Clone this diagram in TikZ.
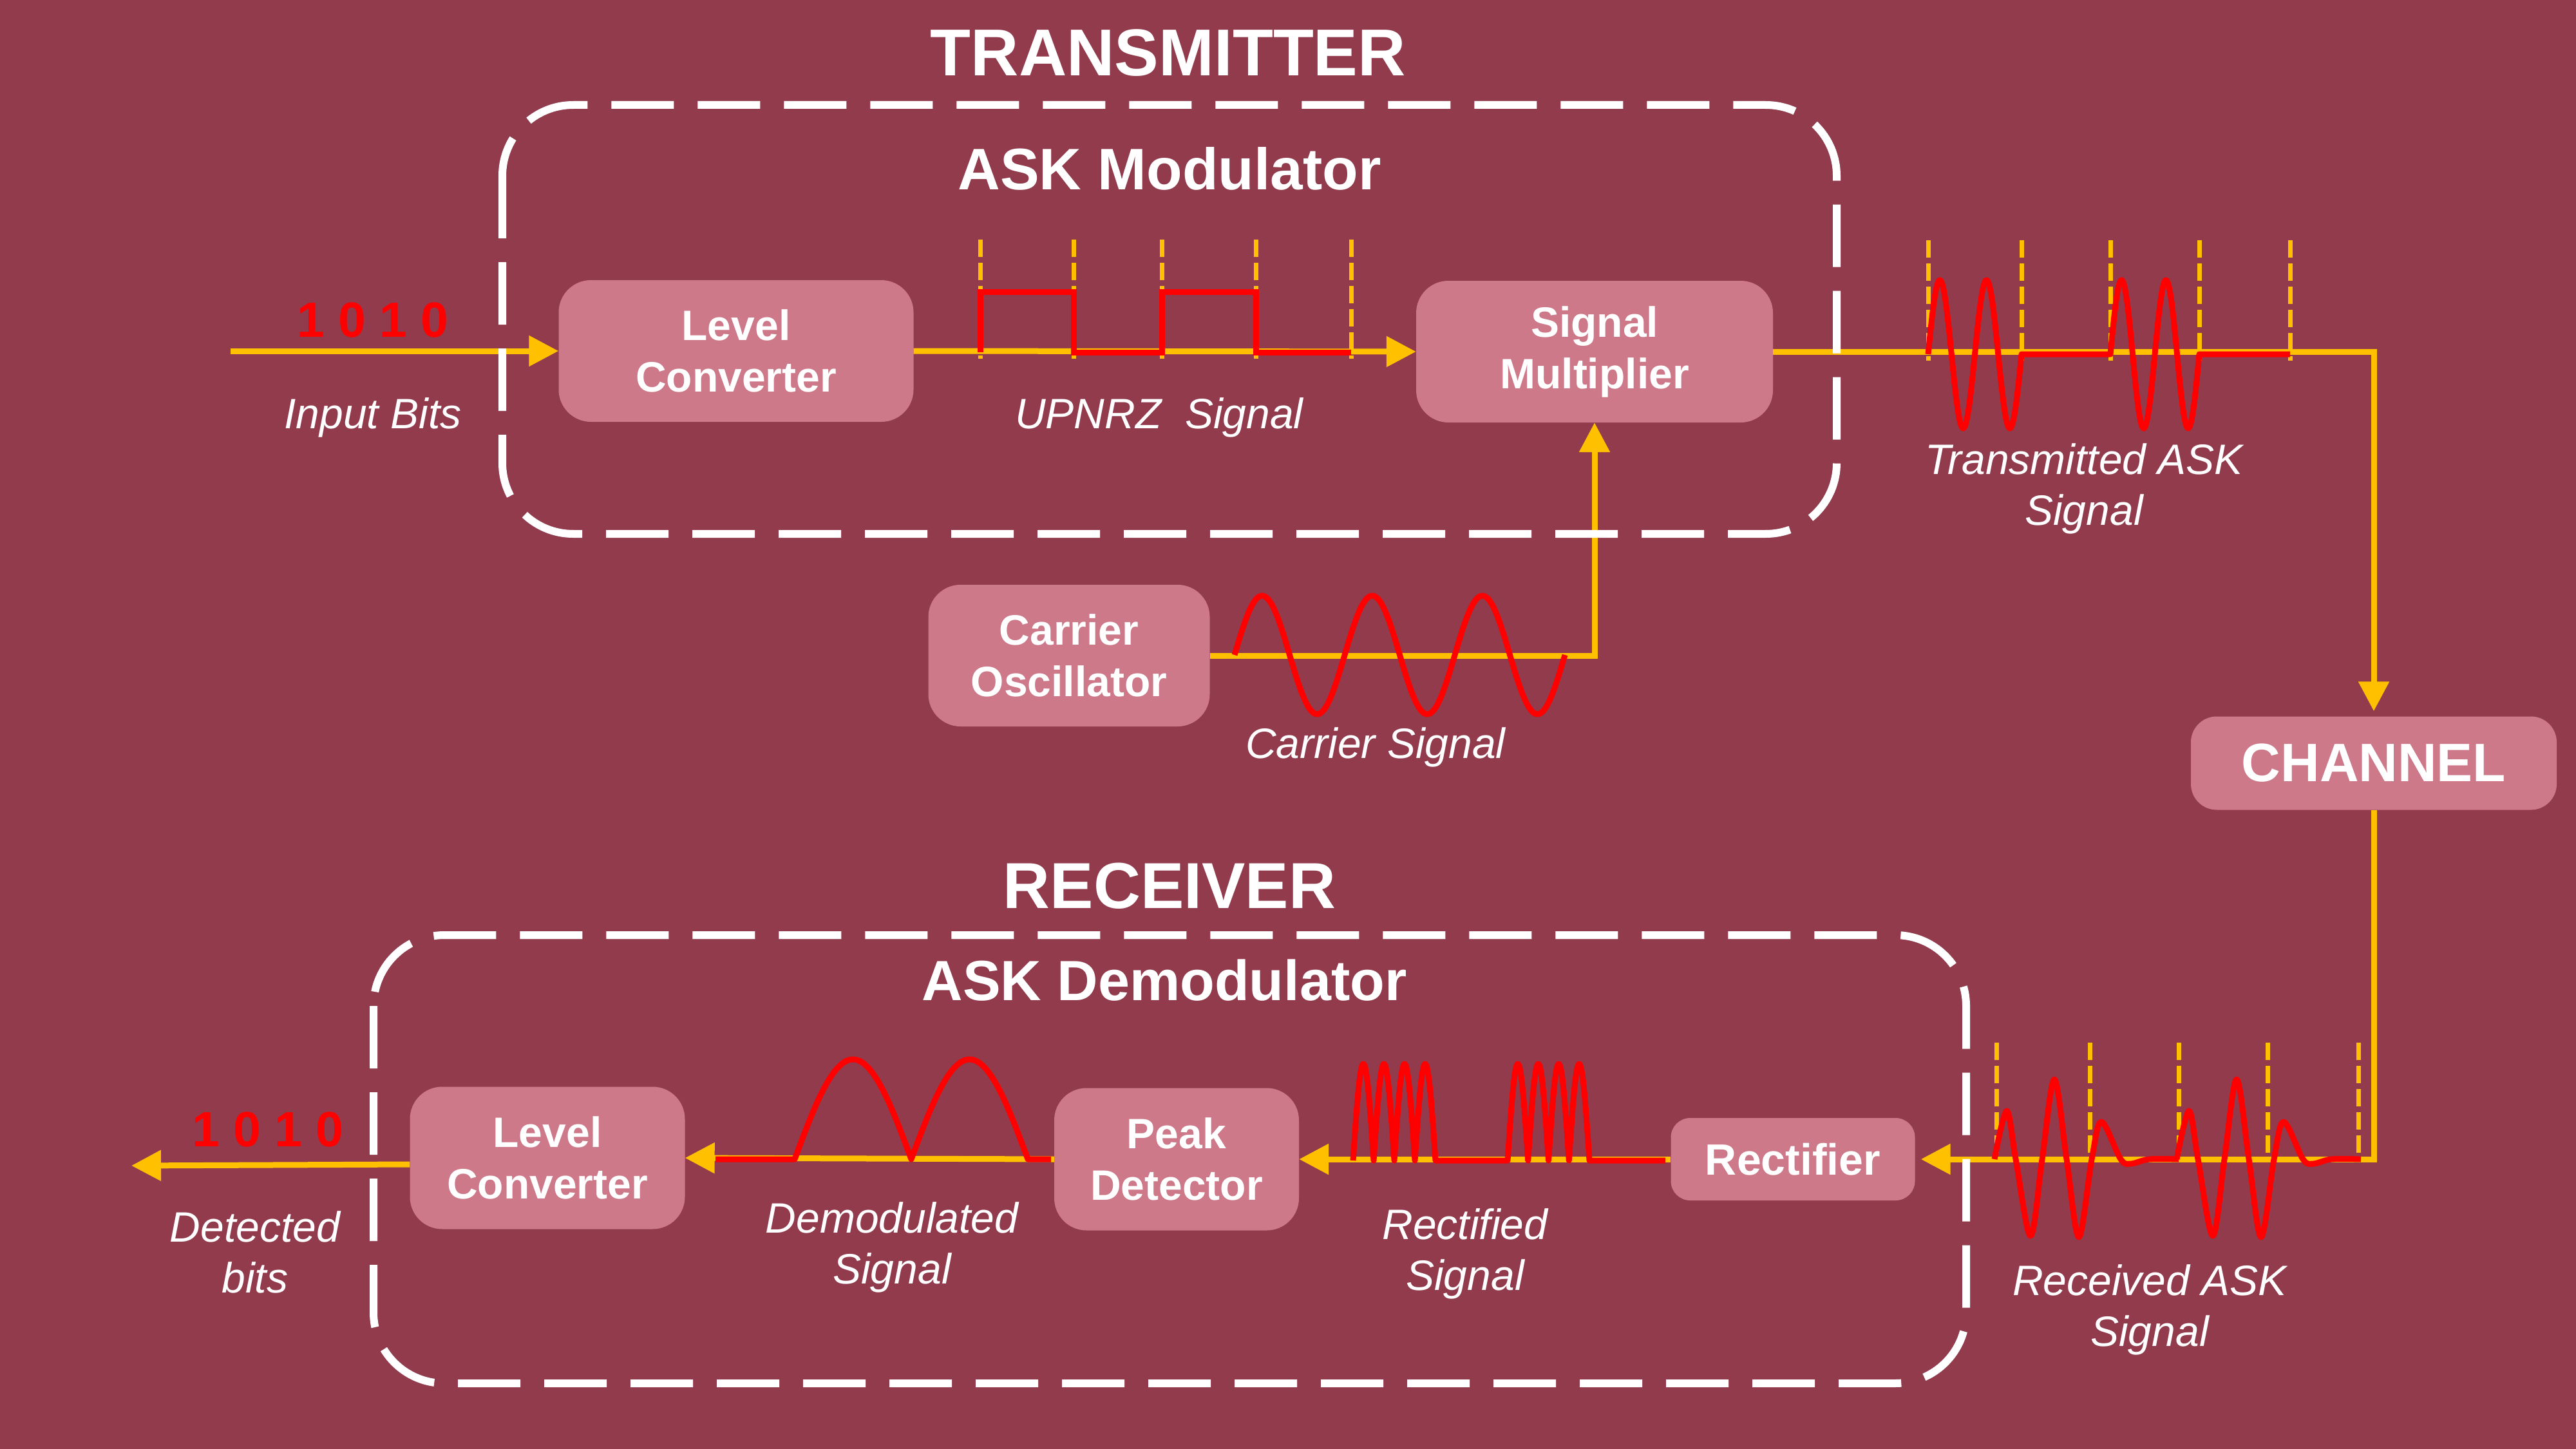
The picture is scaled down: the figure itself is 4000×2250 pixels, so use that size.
\documentclass[tikz,border=0pt]{standalone}
\usepackage{fontspec}
\setmainfont{Liberation Sans}
\usetikzlibrary{arrows.meta}
\definecolor{bg}{RGB}{146,59,77}
\definecolor{boxc}{RGB}{205,121,137}
\definecolor{ylw}{RGB}{255,192,0}
\definecolor{rd}{RGB}{255,0,0}
\begin{document}
\begin{tikzpicture}[x=1pt,y=-1pt,
 blk/.style={fill=boxc, rounded corners=50pt, text=white, align=center, inner sep=0pt, font=\bfseries\fontsize{66}{80}\selectfont},
 flow/.style={draw=ylw, line width=9pt},
 arr/.style={flow, -{Triangle[length=46pt,width=46pt]}},
 sig/.style={draw=rd, line width=9pt, line join=round},
 tickln/.style={draw=ylw, line width=7pt, dash pattern=on 27pt off 9pt},
 dbox/.style={draw=white, line width=12pt, dash pattern=on 97pt off 37pt, rounded corners=110pt},
 lbl/.style={text=white, font=\itshape\fontsize{66}{79}\selectfont, align=center, inner sep=0pt, anchor=base},
 ttl/.style={text=white, inner sep=0pt, anchor=base},
 bits/.style={text=rd, font=\bfseries\fontsize{77}{80}\selectfont, inner sep=0pt, anchor=base}]
\fill[bg] (0,0) rectangle (4000,2250);
\useasboundingbox (0,0) rectangle (4000,2250);

% titles
\node[ttl, font=\bfseries\fontsize{103}{110}\selectfont] (tT) at (1814,118) {TRANSMITTER};
\node[ttl, font=\bfseries\fontsize{91}{100}\selectfont] (tM) at (1816,295) {ASK Modulator};
\node[ttl, font=\bfseries\fontsize{101}{110}\selectfont] (tR) at (1816,1410) {RECEIVER};
\node[ttl, font=\bfseries\fontsize{88}{100}\selectfont] (tD) at (1808,1553) {ASK Demodulator};

% blocks
\node[blk, minimum width=551pt, minimum height=220pt] (lcT) at (1143,545) {Level\\Converter};
\node[blk, minimum width=554pt, minimum height=220pt] (sm) at (2476,546) {Signal\\Multiplier};
\node[blk, minimum width=437pt, minimum height=220pt] (co) at (1660,1018) {Carrier\\Oscillator};
\node[blk, minimum width=568pt, minimum height=145pt, rounded corners=40pt, font=\bfseries\fontsize{84}{90}\selectfont] (ch) at (3686,1185) {CHANNEL};
\node[blk, minimum width=379pt, minimum height=128pt, rounded corners=30pt, font=\bfseries\fontsize{68}{80}\selectfont] (rect) at (2784,1800) {Rectifier};
\node[blk, minimum width=380pt, minimum height=221pt] (pd) at (1827,1800) {Peak\\Detector};
\node[blk, minimum width=427pt, minimum height=221pt] (lcR) at (850,1798) {Level\\Converter};

\coordinate (in) at (358,545);
\coordinate (out) at (204,1810);

% connectors
\draw[arr] (in) -- (lcT.west);
\draw[arr] (lcT.east) -- (sm.west);
\draw[arr] (co.east) -| (sm.south);
\draw[arr, shorten >=8pt] (sm.east) -| (ch.north);
\draw[arr, shorten >=9pt] (ch.south) |- (rect.east);
\draw[arr] (rect.west) -- (pd.east);
\draw[arr] (pd.west) -- (lcR.east);
\draw[arr] ([yshift=-10pt]lcR.west) -- (out);

% dashed tick lines
\foreach \xx in {1522,1667,1804,1950,2098} \draw[tickln] (\xx,372) -- (\xx,557);
\foreach \xx in {2994,3139,3277,3415,3556} \draw[tickln] (\xx,373) -- (\xx,560);
\foreach \xx in {3100,3245,3383,3521,3662} \draw[tickln] (\xx,1619) -- (\xx,1798);

% UPNRZ
\draw[sig, line join=miter] (1522,547) -- (1522,453) -- (1667,453) -- (1667,547) -- (1804,547) -- (1804,453) -- (1950,453) -- (1950,547) -- (2098,547);
% transmitted ASK
\draw[sig] plot[domain=0:720,samples=121] ({2994+(\x/720)*145},{550-115*sin(\x)}) -- (3277,550)
  -- plot[domain=0:720,samples=121] ({3277+(\x/720)*138},{550-115*sin(\x)}) -- (3556,550);
% carrier
\draw[sig] plot[domain=0:1080,samples=181] ({1917+(\x/1080)*513},{1017-92*sin(\x)});
% received ASK
\foreach \xo in {3097,3380}{
\draw[sig] plot[smooth, tension=0.55] coordinates {(\xo,1800) ({\xo+19},1725) ({\xo+33},1800) ({\xo+56},1919) ({\xo+74},1800) ({\xo+93},1676) ({\xo+112},1800) ({\xo+131},1921) ({\xo+151},1800) ({\xo+166},1742) ({\xo+196},1800) ({\xo+212},1807) ({\xo+240},1800) ({\xo+286},1800)};
}
% rectified
\draw[sig] plot[domain=0:720,samples=161] ({2101+(\x/720)*128},{1802-150*abs(sin(\x))}) -- (2341,1802)
  -- plot[domain=0:720,samples=161] ({2341+(\x/720)*127},{1802-150*abs(sin(\x))}) -- (2586,1802);
% demodulated
\draw[sig] (1111,1800) -- (1234,1800) -- plot[domain=0:360,samples=121] ({1234+(\x/360)*362},{1800-155*abs(sin(\x))}) -- (1632,1800);

% dashed group boxes
\draw[dbox] (780,163) rectangle (2852,829);
\draw[dbox] (580,1452) rectangle (3053,2148);

% labels
\node[bits] (b1) at (579,523) {1 0 1 0};
\node[bits] (b2) at (416,1780) {1 0 1 0};
\node[lbl] (l1) at (579,665) {Input Bits};
\node[lbl] (l2) at (1800,665) {UPNRZ\ \ Signal};
\node[lbl] (l3) at (3236,815) {Transmitted ASK\\Signal};
\node[lbl] (l4) at (2136,1177) {Carrier Signal};
\node[lbl] (l5) at (3338,2090) {Received ASK\\Signal};
\node[lbl] (l6) at (2275,2003) {Rectified\\Signal};
\node[lbl] (l7) at (1385,1993) {Demodulated\\Signal};
\node[lbl] (l8) at (396,2007) {Detected\\bits};
\end{tikzpicture}
\end{document}
